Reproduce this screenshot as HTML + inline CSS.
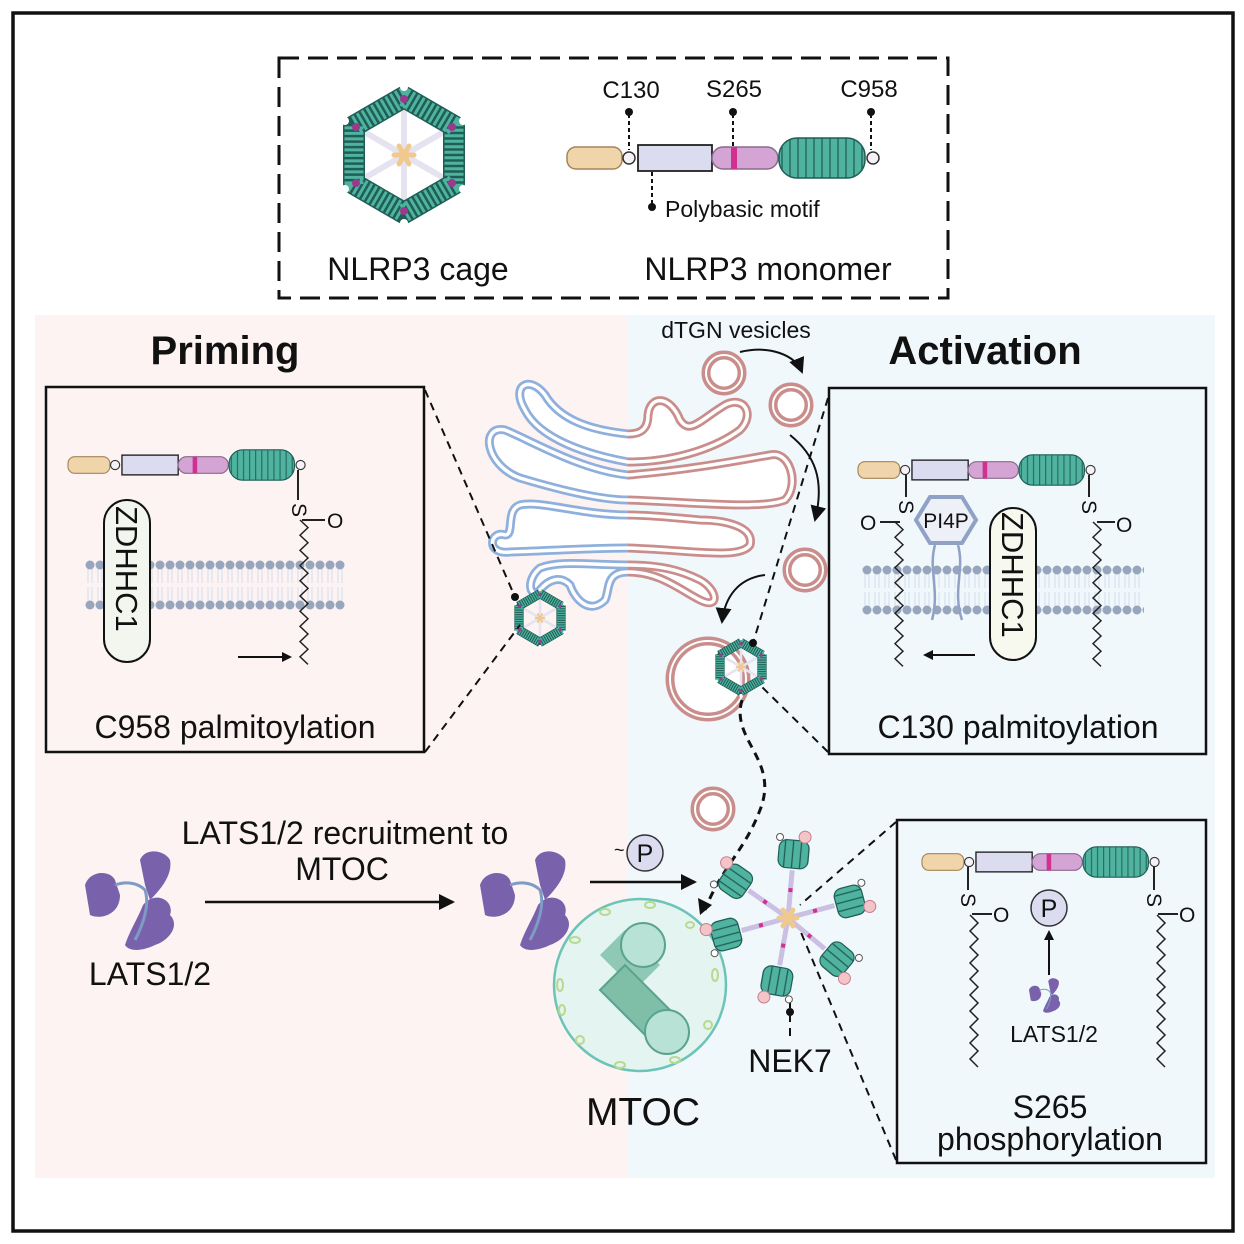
<!DOCTYPE html>
<html><head><meta charset="utf-8"><style>
html,body{margin:0;padding:0;background:#fff}
svg{display:block}
text{font-family:"Liberation Sans",Arial,sans-serif;fill:#111}
</style></head><body>
<svg width="1244" height="1244" viewBox="0 0 1244 1244" xmlns="http://www.w3.org/2000/svg">
<defs>
<pattern id="coil" width="8" height="60" patternUnits="userSpaceOnUse">
<rect width="8" height="60" fill="#4fb3a0"/><line x1="7" y1="0" x2="7" y2="60" stroke="#1f5e55" stroke-width="1.3"/>
</pattern>
<pattern id="mem" width="10" height="50" patternUnits="userSpaceOnUse">
<line x1="3" y1="6" x2="3" y2="23" stroke="#d3ddef" stroke-width="1"/><line x1="7" y1="6" x2="7" y2="23" stroke="#d3ddef" stroke-width="1"/>
<line x1="3" y1="27" x2="3" y2="44" stroke="#d3ddef" stroke-width="1"/><line x1="7" y1="27" x2="7" y2="44" stroke="#d3ddef" stroke-width="1"/>
<circle cx="5" cy="5" r="4.5" fill="#97a6bd"/><circle cx="5" cy="45" r="4.5" fill="#97a6bd"/>
</pattern>
<marker id="ah" markerWidth="10" markerHeight="10" refX="8" refY="5" orient="auto" markerUnits="userSpaceOnUse"><path d="M0,0 L10,5 L0,10 Z" fill="#111"/></marker>
<marker id="ahb" markerWidth="18" markerHeight="16" refX="14" refY="8" orient="auto" markerUnits="userSpaceOnUse"><path d="M0,0 L16,8 L0,16 Z" fill="#111"/></marker>
<g id="mono">
<rect x="0" y="-11" width="55" height="22" rx="9" fill="#f0d4aa" stroke="#a58457" stroke-width="1.5"/>
<circle cx="62" cy="0" r="6" fill="#f6f1f6" stroke="#333" stroke-width="1.5"/>
<rect x="71" y="-13" width="74" height="26" fill="#dcdcf1" stroke="#222" stroke-width="1.8"/>
<rect x="145" y="-11" width="66" height="22" rx="11" fill="#d4a5d4" stroke="#8a6a8a" stroke-width="1.5"/>
<rect x="164" y="-11" width="6" height="22" fill="#d0308f"/>
<rect x="212" y="-20" width="86" height="40" rx="18" fill="url(#coil)" stroke="#1f5e55" stroke-width="1.5"/>
<circle cx="306" cy="0" r="6" fill="#f6f1f6" stroke="#333" stroke-width="1.5"/>
</g>
<g id="cage">
<g stroke="#e6e3f0" stroke-width="6">
<line x1="0" y1="0" x2="0" y2="-50"/><line x1="0" y1="0" x2="43" y2="-25"/><line x1="0" y1="0" x2="43" y2="25"/>
<line x1="0" y1="0" x2="0" y2="50"/><line x1="0" y1="0" x2="-43" y2="25"/><line x1="0" y1="0" x2="-43" y2="-25"/></g>
<polygon points="0,-58 50,-29 50,29 0,58 -50,29 -50,-29" fill="none" stroke="#1f5e55" stroke-width="22" stroke-linejoin="round"/>
<polygon points="0,-58 50,-29 50,29 0,58 -50,29 -50,-29" fill="none" stroke="#4fb3a0" stroke-width="19" stroke-dasharray="3 2.5" stroke-linejoin="round"/>
<g fill="#9a3a8f"><circle cx="0" cy="-56" r="4"/><circle cx="48" cy="-28" r="4"/><circle cx="48" cy="28" r="4"/><circle cx="0" cy="56" r="4"/><circle cx="-48" cy="28" r="4"/><circle cx="-48" cy="-28" r="4"/></g>
<g fill="#fff"><circle cx="0" cy="-68" r="4"/><circle cx="59" cy="-34" r="4"/><circle cx="59" cy="34" r="4"/><circle cx="0" cy="68" r="4"/><circle cx="-59" cy="34" r="4"/><circle cx="-59" cy="-34" r="4"/></g>
<g stroke="#f0c98e" stroke-width="5" stroke-linecap="round"><line x1="-10" y1="0" x2="10" y2="0"/><line x1="-5" y1="-9" x2="5" y2="9"/><line x1="-5" y1="9" x2="5" y2="-9"/></g>
</g>
<g id="zig"><polyline points="0,0 8,8 0,16 8,24 0,32 8,40 0,48 8,56 0,64 8,72 0,80 8,88 0,96 8,104 0,112 8,120 0,128 8,136 0,144 8,152" fill="none" stroke="#222" stroke-width="1.5"/></g>
<g id="nekarm">
<line x1="0" y1="0" x2="0" y2="-48" stroke="#cbbfe3" stroke-width="5"/>
<rect x="-2" y="-30" width="4" height="4" fill="#d0308f"/>
<rect x="-15" y="-78" width="30" height="28" rx="8" fill="url(#coil)" stroke="#1f5e55" stroke-width="1.2"/>
<circle cx="10" cy="-82" r="6" fill="#f3c5c9" stroke="#c67e8f" stroke-width="1"/>
<circle cx="-15" cy="-80" r="3.5" fill="#fff" stroke="#555" stroke-width="1"/>
</g>
<g id="lats">
<path d="M-60,-20 C-55,-35 -35,-35 -30,-25 L-25,-10 C-25,10 -45,15 -55,10 Z" fill="#7a61ac"/>
<path d="M-5,-45 C0,-58 20,-55 25,-45 C28,-30 15,-15 5,-5 L0,-20 Z" fill="#7a61ac"/>
<path d="M-2,0 C10,-15 30,-5 25,10 C35,20 25,35 10,40 C0,45 -15,48 -20,40 C-15,25 -8,15 -2,0 Z" fill="#7a61ac"/>
<path d="M-30,-20 C-15,-25 -5,-20 0,-15 C5,0 -2,20 -10,35" fill="none" stroke="#7d9bc4" stroke-width="3"/>
</g>
</defs>

<rect x="0" y="0" width="1244" height="1244" fill="#fff"/>
<rect x="35" y="315" width="593" height="863" fill="#fcf3f2"/>
<rect x="628" y="315" width="587" height="863" fill="#f1f8fb"/>
<rect x="13" y="13" width="1220" height="1218" fill="none" stroke="#111" stroke-width="3.5"/>

<rect x="279" y="58" width="669" height="240" fill="none" stroke="#111" stroke-width="3" stroke-dasharray="20 9"/>
<use href="#cage" transform="translate(404,155) scale(1.0)"/>
<use href="#mono" transform="translate(567,158)"/>
<g stroke="#111" stroke-width="2" stroke-dasharray="4 3"><line x1="629" y1="114" x2="629" y2="150"/><line x1="733" y1="114" x2="733" y2="146"/><line x1="871" y1="114" x2="871" y2="150"/><line x1="652" y1="172" x2="652" y2="205"/></g>
<g fill="#111"><circle cx="629" cy="112" r="4"/><circle cx="733" cy="112" r="4"/><circle cx="871" cy="112" r="4"/><circle cx="652" cy="207" r="4"/></g>
<text x="631" y="98" font-size="24" text-anchor="middle">C130</text>
<text x="734" y="97" font-size="24" text-anchor="middle">S265</text>
<text x="869" y="97" font-size="24" text-anchor="middle">C958</text>
<text x="665" y="217" font-size="23">Polybasic motif</text>
<text x="418" y="280" font-size="32" text-anchor="middle">NLRP3 cage</text>
<text x="768" y="280" font-size="32" text-anchor="middle">NLRP3 monomer</text>

<text x="225" y="364" font-size="40" font-weight="bold" text-anchor="middle">Priming</text>
<text x="985" y="364" font-size="40" font-weight="bold" text-anchor="middle">Activation</text>
<text x="736" y="338" font-size="23" text-anchor="middle">dTGN vesicles</text>

<g fill="none" stroke-linecap="round" stroke-linejoin="round">
<g id="golgiShapes">
<path d="M628,434 C590,430 560,420 545,395 C530,375 510,385 525,410 C540,440 590,455 628,462 C680,462 720,445 740,430 C755,415 745,395 725,405 C700,420 690,435 680,420 C670,395 650,395 648,415 C648,430 640,434 628,434 Z"/>
<path d="M628,475 C580,470 530,440 505,430 C480,425 485,465 520,478 C560,490 600,500 628,500 C690,502 760,510 785,500 C800,485 790,450 770,455 C740,460 690,470 628,475 Z"/>
<path d="M628,515 C580,515 540,500 520,505 C505,510 515,535 505,535 C490,530 485,555 510,552 C560,550 600,548 628,548 C690,550 740,560 750,545 C755,525 720,520 700,520 C680,518 650,515 628,515 Z"/>
<path d="M628,565 C590,565 560,560 540,568 C525,580 530,600 540,590 C548,580 560,575 570,585 C575,600 590,615 605,600 C610,590 605,572 628,572 C660,572 680,590 700,600 C720,610 718,590 700,580 C680,570 660,565 628,565 Z"/>
</g>
</g>
<clipPath id="cl"><rect x="0" y="0" width="628" height="1244"/></clipPath>
<clipPath id="cr"><rect x="628" y="0" width="700" height="1244"/></clipPath>
<g fill="#fff" stroke="#c98e8c" stroke-width="9" clip-path="url(#cr)"><use href="#golgiShapes"/></g>
<g fill="#fff" stroke="#8fb0dc" stroke-width="9" clip-path="url(#cl)"><use href="#golgiShapes"/></g>
<g fill="none" stroke="#fff" stroke-width="3.5"><use href="#golgiShapes"/></g>

<g fill="#fff" stroke="#c98e8c" stroke-width="9">
<circle cx="724" cy="373" r="18"/><circle cx="791" cy="405" r="18"/><circle cx="805" cy="570" r="18"/><circle cx="713" cy="809" r="18"/>
<circle cx="708" cy="679" r="38"/>
</g>
<g fill="none" stroke="#fff" stroke-width="2">
<circle cx="724" cy="373" r="18"/><circle cx="791" cy="405" r="18"/><circle cx="805" cy="570" r="18"/><circle cx="713" cy="809" r="18"/><circle cx="708" cy="679" r="38"/>
</g>
<g fill="none" stroke="#111" stroke-width="2">
<path d="M740,352 C770,345 795,355 802,372" marker-end="url(#ahb)"/>
<path d="M790,435 C815,455 825,480 815,520" marker-end="url(#ahb)"/>
<path d="M765,575 C740,578 725,595 722,622" marker-end="url(#ahb)"/>
</g>

<use href="#cage" transform="translate(540,618) scale(0.42)"/>
<use href="#cage" transform="translate(741,667) scale(0.42)"/>

<g stroke="#111" stroke-width="2" stroke-dasharray="8 6" fill="none">
<line x1="425" y1="390" x2="515" y2="597"/>
<line x1="425" y1="752" x2="520" y2="625"/>
<line x1="828" y1="398" x2="753" y2="643"/>
<line x1="828" y1="752" x2="760" y2="685"/>
<path d="M742,700 C730,740 780,760 760,810 C745,850 720,870 705,910" stroke-width="3"/>
<line x1="896" y1="822" x2="800" y2="905"/>
<line x1="896" y1="1160" x2="800" y2="930"/>
<line x1="790" y1="1000" x2="790" y2="1040"/>
</g>
<path d="M698,898 L712,905 L700,915 Z" fill="#111"/>
<circle cx="515" cy="597" r="4" fill="#111"/><circle cx="753" cy="643" r="4" fill="#111"/><circle cx="790" cy="1012" r="4" fill="#111"/>

<rect x="46" y="387" width="378" height="365" fill="#fcf3f2" stroke="#111" stroke-width="2.5"/>
<g transform="translate(85,560)"><rect x="0" y="0" width="260" height="50" fill="url(#mem)"/></g>
<use href="#mono" transform="translate(68,465) scale(0.76)"/>
<line x1="298" y1="470" x2="298" y2="500" stroke="#222" stroke-width="2"/>
<text x="0" y="0" font-size="21" transform="translate(292,503) rotate(90)">S</text>
<line x1="302" y1="520" x2="325" y2="520" stroke="#222" stroke-width="2"/>
<text x="327" y="528" font-size="21">O</text>
<use href="#zig" transform="translate(300,520) scale(1,0.95)"/>
<rect x="104" y="500" width="46" height="162" rx="23" fill="#f2f6ee" stroke="#111" stroke-width="2"/>
<text font-size="31" transform="translate(116,506) rotate(90)">ZDHHC1</text>
<line x1="238" y1="657" x2="290" y2="657" stroke="#111" stroke-width="2" marker-end="url(#ah)"/>
<text x="235" y="738" font-size="32" text-anchor="middle">C958 palmitoylation</text>

<rect x="829" y="388" width="377" height="366" fill="#f1f8fb" stroke="#111" stroke-width="2.5"/>
<g transform="translate(862,565)"><rect x="0" y="0" width="282" height="50" fill="url(#mem)"/></g>
<use href="#mono" transform="translate(858,470) scale(0.76)"/>
<line x1="906" y1="475" x2="906" y2="497" stroke="#222" stroke-width="2"/>
<line x1="1089" y1="475" x2="1089" y2="497" stroke="#222" stroke-width="2"/>
<text font-size="21" transform="translate(899,500) rotate(90)">S</text>
<text font-size="21" transform="translate(1082,500) rotate(90)">S</text>
<line x1="880" y1="522" x2="900" y2="522" stroke="#222" stroke-width="2"/>
<line x1="1097" y1="522" x2="1115" y2="522" stroke="#222" stroke-width="2"/>
<text x="860" y="530" font-size="21">O</text>
<text x="1116" y="532" font-size="21">O</text>
<use href="#zig" transform="translate(895,522) scale(1,0.95)"/>
<use href="#zig" transform="translate(1093,522) scale(1,0.95)"/>
<path d="M935,545 C928,570 940,590 932,620 M958,545 C965,570 952,590 962,620" fill="none" stroke="#8fa2c6" stroke-width="2.5"/>
<polygon points="930,497 962,497 976,520 962,543 930,543 916,520" fill="#eef0f8" stroke="#8fa2c6" stroke-width="4"/>
<text x="946" y="528" font-size="21" text-anchor="middle">PI4P</text>
<rect x="990" y="508" width="46" height="152" rx="23" fill="#f7f8ee" stroke="#111" stroke-width="2"/>
<text font-size="31" transform="translate(1002,512) rotate(90)">ZDHHC1</text>
<line x1="975" y1="655" x2="925" y2="655" stroke="#111" stroke-width="2" marker-end="url(#ah)"/>
<text x="1018" y="738" font-size="32" text-anchor="middle">C130 palmitoylation</text>

<rect x="897" y="820" width="309" height="343" fill="#f1f8fb" stroke="#111" stroke-width="2.5"/>
<use href="#mono" transform="translate(922,862) scale(0.76)"/>
<line x1="968" y1="867" x2="968" y2="890" stroke="#222" stroke-width="2"/>
<line x1="1154" y1="867" x2="1154" y2="890" stroke="#222" stroke-width="2"/>
<text font-size="21" transform="translate(961,893) rotate(90)">S</text>
<text font-size="21" transform="translate(1147,893) rotate(90)">S</text>
<line x1="972" y1="914" x2="992" y2="914" stroke="#222" stroke-width="2"/>
<line x1="1158" y1="914" x2="1178" y2="914" stroke="#222" stroke-width="2"/>
<text x="993" y="922" font-size="21">O</text>
<text x="1179" y="922" font-size="21">O</text>
<use href="#zig" transform="translate(970,915)"/>
<use href="#zig" transform="translate(1157,915)"/>
<circle cx="1049" cy="908" r="18" fill="#dcdcf1" stroke="#333" stroke-width="1.5"/>
<text x="1049" y="917" font-size="25" text-anchor="middle">P</text>
<line x1="1049" y1="975" x2="1049" y2="932" stroke="#111" stroke-width="2" marker-end="url(#ah)"/>
<use href="#lats" transform="translate(1050,997) scale(0.35)"/>
<text x="1054" y="1042" font-size="23" text-anchor="middle">LATS1/2</text>
<text x="1050" y="1118" font-size="32" text-anchor="middle">S265</text>
<text x="1050" y="1150" font-size="32" text-anchor="middle">phosphorylation</text>

<use href="#lats" transform="translate(145,905)"/>
<text x="150" y="985" font-size="32" text-anchor="middle">LATS1/2</text>
<text x="345" y="844" font-size="32" text-anchor="middle">LATS1/2 recruitment to</text>
<text x="342" y="880" font-size="32" text-anchor="middle">MTOC</text>
<line x1="205" y1="902" x2="453" y2="902" stroke="#111" stroke-width="2.5" marker-end="url(#ahb)"/>
<use href="#lats" transform="translate(540,905)"/>
<line x1="590" y1="882" x2="695" y2="882" stroke="#111" stroke-width="2.5" marker-end="url(#ahb)"/>
<circle cx="645" cy="853" r="18" fill="#dcdcf1" stroke="#333" stroke-width="1.5"/>
<text x="645" y="862" font-size="25" text-anchor="middle">P</text>
<text x="614" y="856" font-size="18">~</text>

<circle cx="640" cy="985" r="86" fill="#e3f4f1" stroke="#6cc4b8" stroke-width="2.5"/>
<g fill="none" stroke="#b9d98e" stroke-width="2">
<ellipse cx="560" cy="985" rx="3" ry="6"/><ellipse cx="575" cy="940" rx="5" ry="3"/><ellipse cx="605" cy="912" rx="5" ry="3"/><ellipse cx="650" cy="905" rx="5" ry="3"/><ellipse cx="690" cy="925" rx="4" ry="3"/><ellipse cx="715" cy="975" rx="3" ry="6"/><ellipse cx="708" cy="1025" rx="4" ry="4"/><ellipse cx="675" cy="1060" rx="5" ry="3"/><ellipse cx="620" cy="1065" rx="5" ry="3"/><ellipse cx="580" cy="1040" rx="4" ry="4"/><ellipse cx="562" cy="1010" rx="3" ry="5"/>
</g>
<path d="M600,955 L625,930 L660,965 L635,990 Z" fill="#8fc9b5"/>
<ellipse cx="643" cy="945" rx="22" ry="22" fill="#b9e2d6" stroke="#5aa38e" stroke-width="2"/>
<path d="M600,990 L625,965 L680,1020 L655,1045 Z" fill="#7fbea7" stroke="#5aa38e" stroke-width="2"/>
<ellipse cx="667" cy="1032" rx="22" ry="22" fill="#b9e2d6" stroke="#5aa38e" stroke-width="2"/>
<text x="643" y="1125" font-size="39" text-anchor="middle">MTOC</text>

<g transform="translate(788,918)">
<use href="#nekarm" transform="rotate(-55)"/>
<use href="#nekarm" transform="rotate(5)"/>
<use href="#nekarm" transform="rotate(75)"/>
<use href="#nekarm" transform="rotate(130)"/>
<use href="#nekarm" transform="rotate(190)"/>
<use href="#nekarm" transform="rotate(255)"/>
<g stroke="#f0c98e" stroke-width="5" stroke-linecap="round"><line x1="-9" y1="0" x2="9" y2="0"/><line x1="-5" y1="-8" x2="5" y2="8"/><line x1="-5" y1="8" x2="5" y2="-8"/></g>
</g>
<text x="790" y="1072" font-size="32" text-anchor="middle">NEK7</text>
</svg>
</body></html>
